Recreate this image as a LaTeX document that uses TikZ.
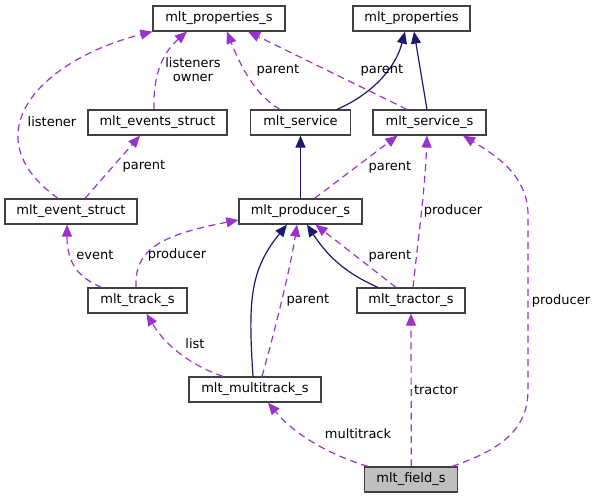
\documentclass[tikz,border=0pt]{standalone}
\usepackage{fontspec}
\setmainfont{DejaVu Sans}
\usepackage{tikz}
\usetikzlibrary{arrows.meta}
\definecolor{edgepurple}{HTML}{9A32CD}
\definecolor{edgeblue}{HTML}{191970}
\definecolor{fieldgray}{HTML}{BFBFBF}

\begin{document}
\begin{tikzpicture}[
      x=1pt, y=-1pt,
      struct_node/.style={
         rectangle,
         draw=black!75,
         line width=1.2pt,
         fill=white,
         inner sep=0pt,
         minimum height=25pt,
         font=\fontsize{13}{15}\selectfont},
      edge_label/.style={
         inner sep=0pt,
         align=center,
         font=\fontsize{13}{14}\selectfont},
      arrow_blue/.style={
         -{Triangle[length=12pt,width=10pt]},
         line width=1.2pt,
         draw=edgeblue},
      arrow_dash/.style={
         -{Triangle[length=12pt,width=10pt]},
         dash pattern=on 7pt off 4.7pt,
         line width=1.2pt,
         draw=edgepurple}
]
      \useasboundingbox (0,0) rectangle (595,499);

      %structs
      \node[struct_node,minimum width=132pt] (props_s) at (219,18.5) {mlt\_properties\_s};
      \node[struct_node,minimum width=117pt] (props) at (411.5,18.5) {mlt\_properties};

      \node[struct_node,minimum width=139pt] (events) at (157.5,122.5) {mlt\_events\_struct};
      \node[struct_node,minimum width=100pt] (service) at (300.5,122.5) {mlt\_service};
      \node[struct_node,minimum width=113pt] (service_s) at (429.5,122.5) {mlt\_service\_s};

      \node[struct_node,minimum width=132pt] (event) at (71,211.5) {mlt\_event\_struct};
      \node[struct_node,minimum width=123pt] (producer) at (300.5,211.5) {mlt\_producer\_s};

      \node[struct_node,minimum width=99pt] (track) at (137.5,300.5) {mlt\_track\_s};
      \node[struct_node,minimum width=108pt] (tractor) at (411,300.5) {mlt\_tractor\_s};

      \node[struct_node,minimum width=132pt] (multitrack) at (255,389.5) {mlt\_multitrack\_s};
      \node[struct_node,minimum width=93pt,fill=fieldgray] (field) at (411,479.5) {mlt\_field\_s};

      %inheritance
      \draw[arrow_blue] (producer.north) -- (service.south);
      \draw[arrow_blue] ([xshift=-2.5pt]service_s.north) -- ([xshift=2.5pt]props.south);
      \draw[arrow_blue] ([xshift=36.5pt]service.north) .. controls (370,95) and (395,70) .. ([xshift=-6.5pt]props.south);
      \draw[arrow_blue] ([xshift=-2pt]multitrack.north) .. controls (248,300) and (250,270) .. ([xshift=-13.5pt]producer.south);
      \draw[arrow_blue] ([xshift=-33pt]tractor.north) .. controls (350,275) and (330,260) .. ([xshift=6.5pt]producer.south);

    \foreach \s/\ds/\t/\dt/\txt/\lx/\ly/\n in {% from/shift/to/shift/text/label x/label y/name
      event/14/events/-17.5/parent/144/166/ev_parent,
      producer/14/service_s/-32/parent/390/167/pd_parent,
      service_s/-22.5/props_s/29/parent/382/70/svs_parent,
      tractor/-15/producer/15/parent/390/256/tr_parent}
    \draw[arrow_dash] ([xshift=\ds pt]\s.north) -- ([xshift=\dt pt]\t.south)
      node[edge_label] (lbl_\n) at (\lx,\ly) {\txt};

      %members
      \draw[arrow_dash] ([xshift=0.3pt]field.north) -- (tractor.south)
        node[edge_label] (lbl_fd_tractor) at (436,390) {tractor};
      \draw[arrow_dash] ([xshift=-13pt]event.north) .. controls (-30,135) and (40,60) .. (props_s.south west)
        node[edge_label] (lbl_listener) at (52,122) {listener};
      \draw[arrow_dash] ([xshift=-3.5pt]events.north) .. controls (153,80) and (160,55) .. ([xshift=-32pt]props_s.south)
        node[edge_label] (lbl_owner) at (193,70) {listeners\\owner};
      \draw[arrow_dash] ([xshift=-20.5pt]service.north) .. controls (255,95) and (240,65) .. ([xshift=8pt]props_s.south)
        node[edge_label] (lbl_sv_parent) at (278,70) {parent};
      \draw[arrow_dash] ([xshift=-36pt]track.north) .. controls (80,278) and (67,265) .. ([xshift=-4pt]event.south)
        node[edge_label] (lbl_event) at (95,255) {event};
      \draw[arrow_dash] ([xshift=-1.5pt]track.north) .. controls (134,250) and (160,235) .. ([yshift=-8.5pt]producer.west)
        node[edge_label] (lbl_tk_producer) at (177,255) {producer};
      \draw[arrow_dash] ([xshift=7pt]multitrack.north) .. controls (275,330) and (290,270) .. ([xshift=-3.5pt]producer.south)
        node[edge_label] (lbl_mt_parent) at (308,300) {parent};
      \draw[arrow_dash] ([xshift=2pt]tractor.north) .. controls (418,240) and (425,190) .. ([xshift=-2.5pt]service_s.south)
        node[edge_label] (lbl_tr_producer) at (453,211) {producer};
      \draw[arrow_dash] ([xshift=-32pt]multitrack.north) .. controls (190,365) and (165,345) .. ([xshift=9pt]track.south)
        node[edge_label] (lbl_list) at (195,344) {list};
      \draw[arrow_dash] ([xshift=-43pt]field.north) .. controls (330,455) and (295,435) .. ([xshift=13pt]multitrack.south)
        node[edge_label] (lbl_multitrack) at (358,434) {multitrack};
      \draw[arrow_dash] ([xshift=41pt]field.north) .. controls (500,450) and (528,430) .. (528,390) -- (528,215)
        .. controls (528,175) and (495,155) .. ([xshift=33.5pt]service_s.south)
        node[edge_label] (lbl_fd_producer) at (561,301) {producer};

\end{tikzpicture}
\end{document}
